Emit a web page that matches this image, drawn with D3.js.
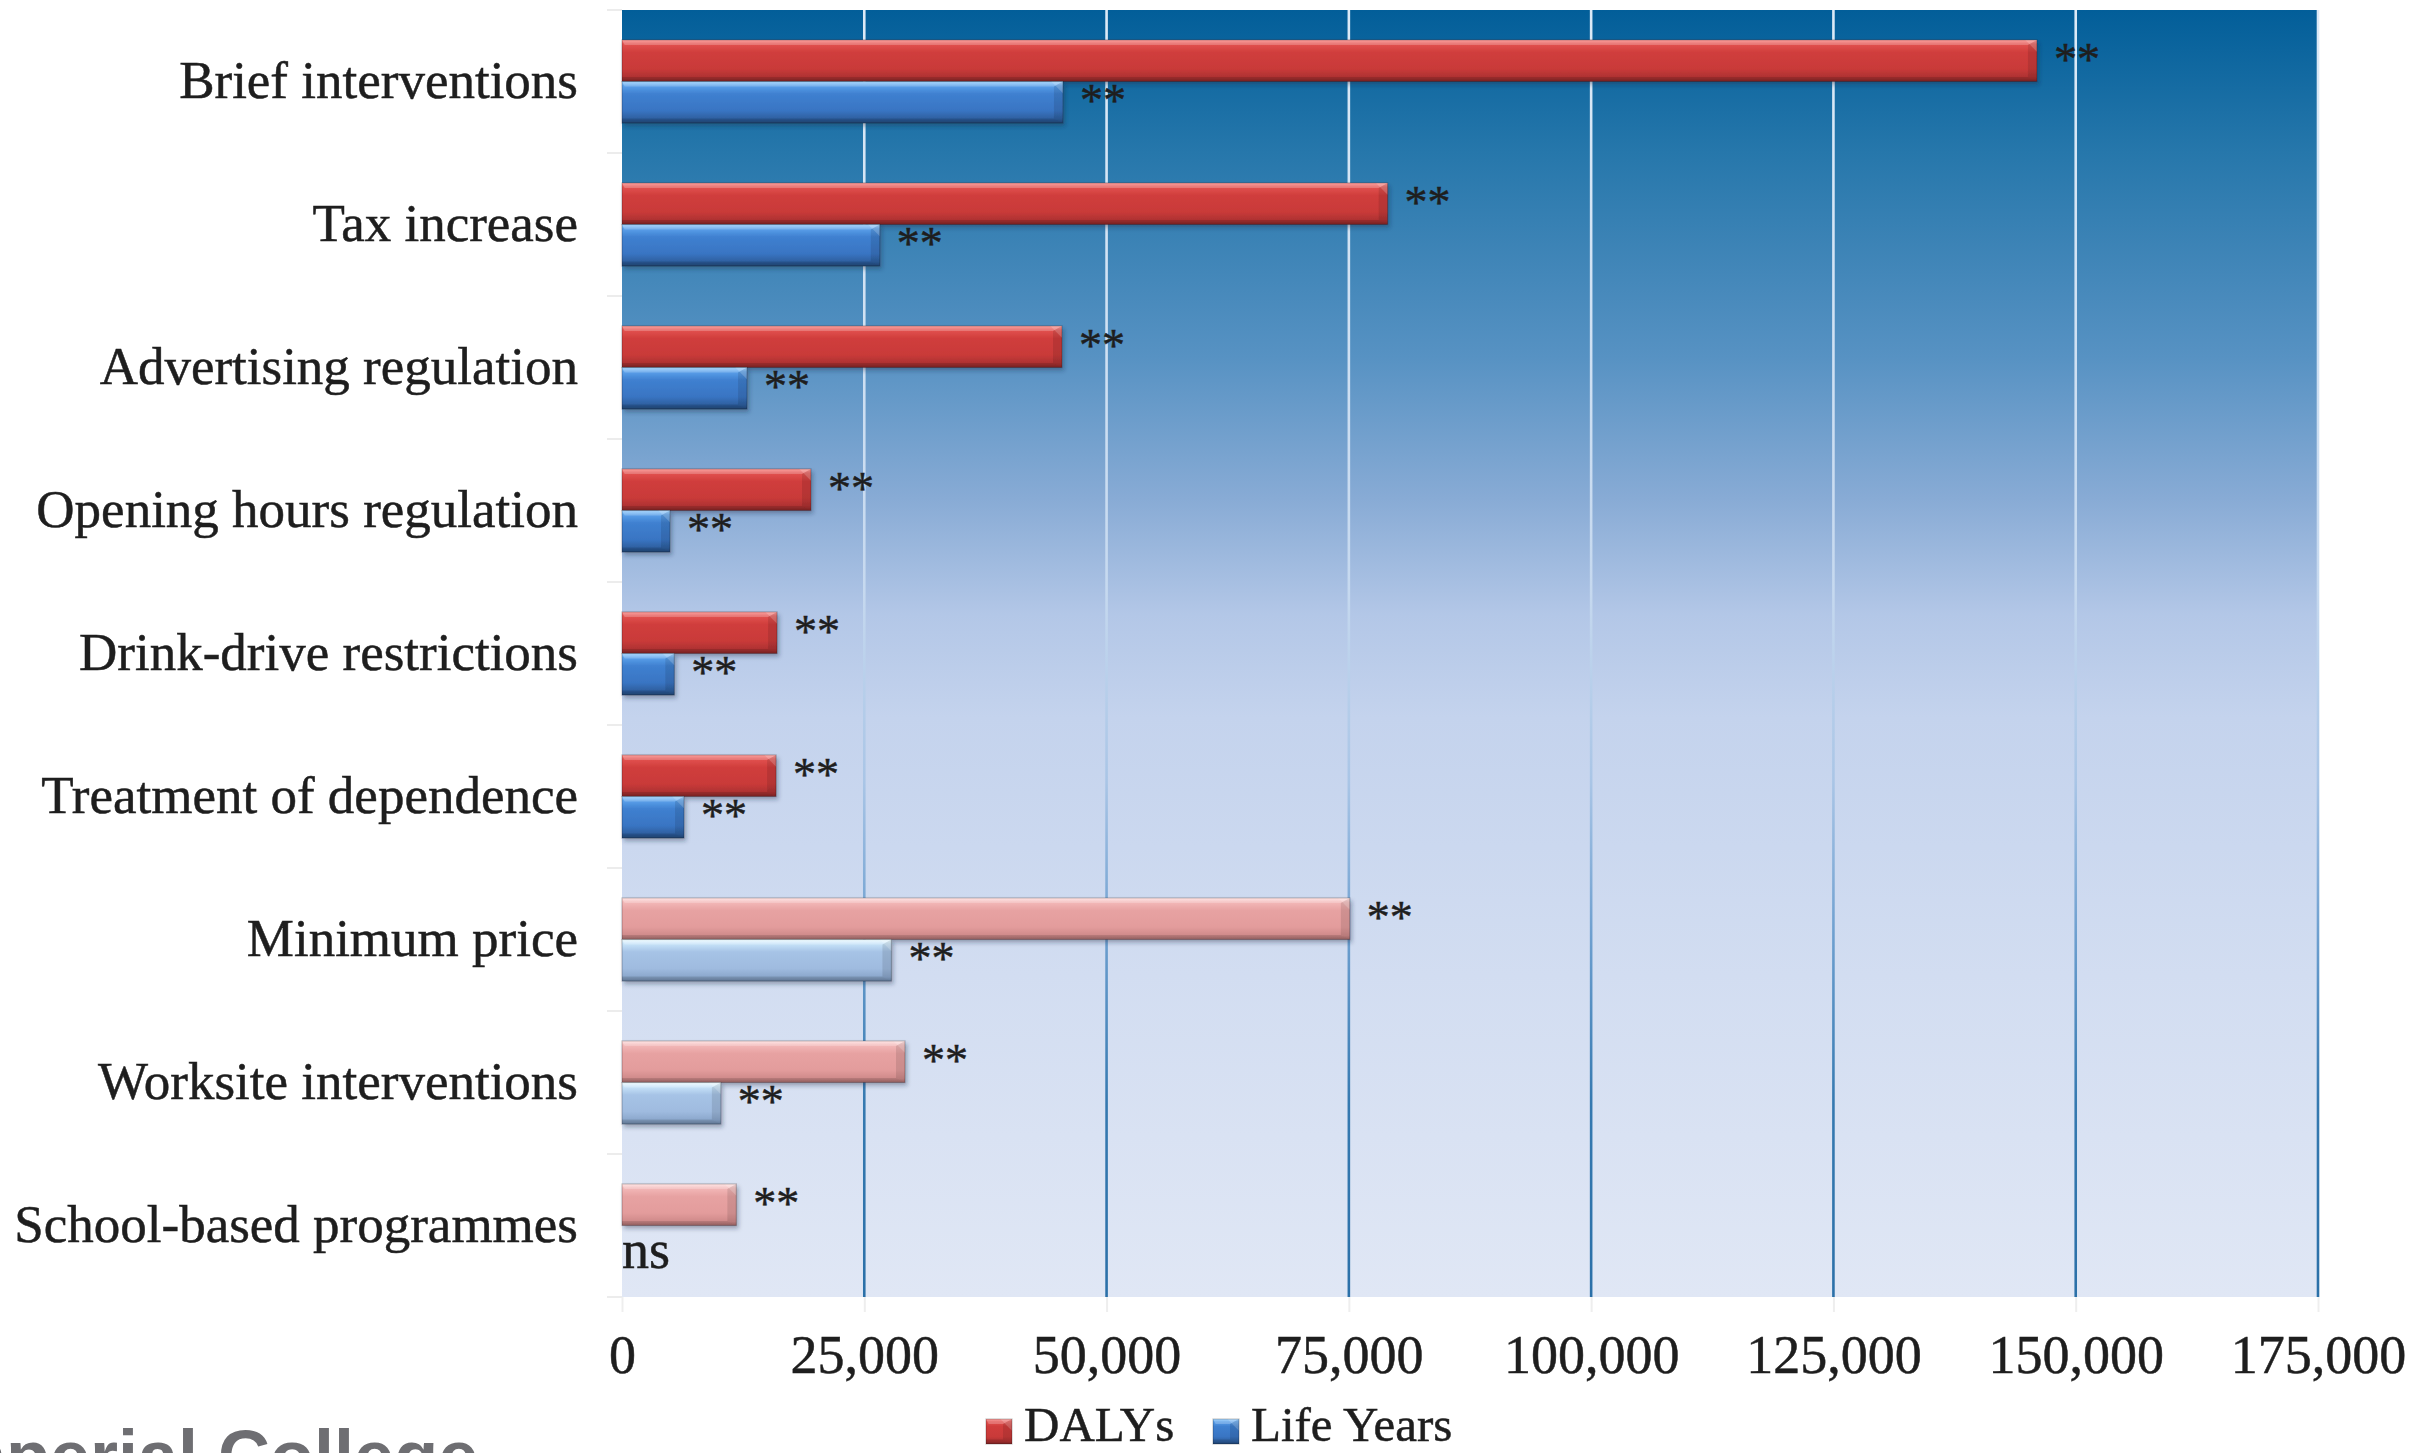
<!DOCTYPE html>
<html>
<head>
<meta charset="utf-8">
<title>Alcohol policy interventions: DALYs and Life Years gained</title>
<script src="https://cdn.jsdelivr.net/npm/d3@7"></script>
<style>
  html, body { margin: 0; padding: 0; background: #ffffff; }
  svg { display: block; }
  .cat-label, .tick-label, .legend-label, .sig-label {
    font-family: "Liberation Serif", "Times New Roman", serif;
    fill: #1e1e1e; stroke: #1e1e1e; stroke-width: 0.5px;
  }
</style>
</head>
<body>
<svg id="chart" width="2435" height="1453"></svg>
<script>
// Interventions, top to bottom
const categories = [
  "Brief interventions",
  "Tax increase",
  "Advertising regulation",
  "Opening hours regulation",
  "Drink-drive restrictions",
  "Treatment of dependence",
  "Minimum price",
  "Worksite interventions",
  "School-based programmes"
];

// Health gain per intervention
const dalys     = [146000, 79000, 45400, 19500, 16000, 15900, 75100, 29200, 11800];
const lifeYears = [ 45500, 26600, 12900,  4950,  5400,  6400, 27800, 10200,     0];

// Significance markers shown next to each bar
const dalysSig     = ["**", "**", "**", "**", "**", "**", "**", "**", "**"];
const lifeYearsSig = ["**", "**", "**", "**", "**", "**", "**", "**", "ns"];

// Interventions drawn in the lighter shade
const lightCategories = ["Minimum price", "Worksite interventions", "School-based programmes"];

// Axis ticks
const xTicks = [0, 25000, 50000, 75000, 100000, 125000, 150000, 175000];

const seriesNames  = ["DALYs", "Life Years"];

const width = 2435, height = 1453;
const margin = { left: 622, top: 10 };
const plotW = 1696, plotH = 1287;

const svg = d3.select("#chart");
const defs = svg.append("defs");

// Plot background: deep blue at the top fading to pale lavender
const bg = defs.append("linearGradient").attr("id", "plotBg")
  .attr("x1", 0).attr("y1", 0).attr("x2", 0).attr("y2", 1);
[[0, "#025e99"], [0.11, "#2677ab"], [0.27, "#5792c3"], [0.38, "#88abd5"],
 [0.47, "#b3c7e7"], [0.55, "#c4d3ed"], [0.75, "#d2ddf1"], [1, "#e0e7f5"]]
  .forEach(([o, c]) => bg.append("stop").attr("offset", o).attr("stop-color", c));

// Gridlines: light over the dark top, blue over the pale bottom
const gridGrad = defs.append("linearGradient").attr("id", "gridGrad")
  .attr("gradientUnits", "userSpaceOnUse")
  .attr("x1", 0).attr("y1", 0).attr("x2", 0).attr("y2", plotH);
[[0, "#dceaf7"], [0.45, "#c6d9ef"], [0.6, "#a9c5e6"], [0.72, "#6d9fcf"], [0.85, "#3579b0"], [1, "#2b70a8"]]
  .forEach(([o, c]) => gridGrad.append("stop").attr("offset", o).attr("stop-color", c));

// Bar fills
const palettes = {
  red:       ["#f98380", "#e25250", "#d03d3c", "#c93a39", "#ad3232", "#8a2828"],
  blue:      ["#92ceff", "#5aa0ea", "#3f80d0", "#3975c3", "#2e5f9f", "#234a7c"],
  lightRed:  ["#ffdede", "#f3b8b8", "#e7a2a2", "#e39c9c", "#cf8a8a", "#a86c6c"],
  lightBlue: ["#ecfbff", "#c8e4f9", "#a6c3e6", "#9fbbdf", "#8ba7cc", "#6d86a8"]
};
Object.entries(palettes).forEach(([key, cs]) => {
  const g = defs.append("linearGradient").attr("id", "fill-" + key)
    .attr("x1", 0).attr("y1", 0).attr("x2", 0).attr("y2", 1);
  [0, 0.1, 0.3, 0.7, 0.9, 1].forEach((o, i) =>
    g.append("stop").attr("offset", o).attr("stop-color", cs[i]));
});

const shadow = defs.append("filter").attr("id", "barShadow")
  .attr("x", "-10%").attr("y", "-20%").attr("width", "130%").attr("height", "160%");
shadow.append("feDropShadow").attr("dx", 2).attr("dy", 3).attr("stdDeviation", 2.2)
  .attr("flood-color", "#1a2a40").attr("flood-opacity", 0.35);

const plot = svg.append("g").attr("transform", `translate(${margin.left},${margin.top})`);

plot.append("rect").attr("width", plotW).attr("height", plotH).attr("fill", "url(#plotBg)");

// Scales
const x = d3.scaleLinear().domain([0, 175000]).range([0, plotW]);
const y = d3.scaleBand().domain(categories).range([0, plotH]).padding(0);
const ySeries = d3.scaleBand().domain(seriesNames).range([0, y.bandwidth()])
  .paddingInner(0).paddingOuter(0.72);

// Vertical gridlines
plot.append("g").selectAll("line").data(xTicks.slice(1))
  .join("line")
  .attr("x1", d => x(d)).attr("x2", d => x(d))
  .attr("y1", 0).attr("y2", plotH)
  .attr("stroke", "url(#gridGrad)").attr("stroke-width", 2.6);

// Faint category boundary ticks on the left
plot.append("g").selectAll("line").data(d3.range(categories.length + 1))
  .join("line")
  .attr("x1", -15).attr("x2", 0)
  .attr("y1", i => i * y.step()).attr("y2", i => i * y.step())
  .attr("stroke", "#ececec").attr("stroke-width", 2);

// Bottom axis
const xAxis = plot.append("g").attr("transform", `translate(0,${plotH})`)
  .call(d3.axisBottom(x).tickValues(xTicks).tickFormat(d3.format(",")).tickSize(15).tickPadding(0));
xAxis.select(".domain").remove();
xAxis.selectAll(".tick line").attr("stroke", "#eeeeee").attr("stroke-width", 2);
xAxis.selectAll(".tick text")
  .attr("class", "tick-label")
  .attr("y", 76).attr("dy", 0)
  .style("font-size", "54px");

// Left axis labels
const yAxis = plot.append("g")
  .call(d3.axisLeft(y).tickSize(0).tickPadding(44));
yAxis.select(".domain").remove();
yAxis.selectAll(".tick text")
  .attr("class", "cat-label")
  .style("font-size", "53px");

// Rows of bar data
const rows = [];
categories.forEach((c, i) => {
  const light = lightCategories.includes(c);
  rows.push({ cat: c, series: "DALYs", value: dalys[i], sig: dalysSig[i], fill: light ? "lightRed" : "red" });
  rows.push({ cat: c, series: "Life Years", value: lifeYears[i], sig: lifeYearsSig[i], fill: light ? "lightBlue" : "blue" });
});

// Bevelled bar: gradient body plus four shaded faces
function drawBevelBar(g, w, h, fillKey) {
  if (w <= 0) return;
  const b = Math.min(9, w / 2.5);
  g.append("rect").attr("width", w).attr("height", h).attr("fill", `url(#fill-${fillKey})`);
  // top face
  g.append("path").attr("d", `M0,0 L${w},0 L${w - b},${b * 0.55} L${b * 0.3},${b * 0.55} Z`)
    .attr("fill", "#ffffff").attr("opacity", 0.22);
  // right face
  g.append("path").attr("d", `M${w},0 L${w},${h} L${w - b},${h - b * 0.5} L${w - b},${b * 0.55} Z`)
    .attr("fill", "#000000").attr("opacity", 0.1);
  // top-right corner highlight
  g.append("path").attr("d", `M${w - b * 1.3},0 L${w},0 L${w},${b * 1.3} Z`)
    .attr("fill", "#ffffff").attr("opacity", 0.18);
  // bottom face
  g.append("path").attr("d", `M0,${h} L${w},${h} L${w - b},${h - b * 0.5} L0,${h - b * 0.5} Z`)
    .attr("fill", "#000000").attr("opacity", 0.12);
  g.append("rect").attr("width", w).attr("height", h).attr("fill", "none")
    .attr("stroke", "#000").attr("stroke-opacity", 0.22).attr("stroke-width", 1.2);
}

const bars = plot.append("g").selectAll("g.bar").data(rows)
  .join("g").attr("class", "bar")
  .attr("transform", d => `translate(0,${y(d.cat) + ySeries(d.series)})`)
  .attr("filter", "url(#barShadow)");
bars.each(function (d) {
  drawBevelBar(d3.select(this), x(d.value), ySeries.bandwidth(), d.fill);
});

// Significance markers
plot.append("g").selectAll("text").data(rows)
  .join("text")
  .attr("class", "sig-label")
  .attr("x", d => x(d.value) + (d.sig === "ns" ? 0 : 17))
  .attr("y", d => y(d.cat) + ySeries(d.series) + ySeries.bandwidth() / 2 + (d.sig === "ns" ? 22 : 14))
  .style("font-size", d => d.sig === "ns" ? "54px" : "46px")
  .text(d => d.sig);

// Legend
const legend = svg.append("g");
const legendItems = [
  { name: "DALYs", fill: "red", x: 986 },
  { name: "Life Years", fill: "blue", x: 1213 }
];
legendItems.forEach(it => {
  const g = legend.append("g").attr("transform", `translate(${it.x},1419)`);
  drawBevelBar(g, 26, 25, it.fill);
  legend.append("text").attr("class", "legend-label")
    .attr("x", it.x + 38).attr("y", 1441)
    .style("font-size", "49px")
    .text(it.name);
});

// Institution wordmark along the bottom edge
svg.append("text")
  .attr("x", -78).attr("y", 1481)
  .style("font-family", "'Liberation Sans', Arial, sans-serif")
  .style("font-weight", "bold")
  .style("font-size", "72px")
  .attr("fill", "#6e6e72")
  .text("Imperial College");
</script>
</body>
</html>
